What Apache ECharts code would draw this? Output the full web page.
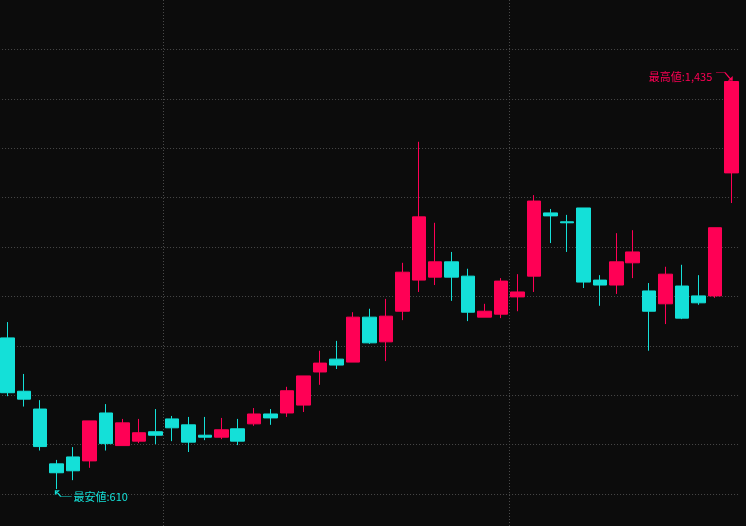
<!DOCTYPE html>
<html>
<head>
<meta charset="utf-8">
<script src="https://cdn.jsdelivr.net/npm/echarts@6/dist/echarts.min.js"></script>
<style>
html,body{margin:0;padding:0;background:#0c0c0c;}
#chart{width:746px;height:526px;}
</style>
</head>
<body>
<div id="chart"></div>
<script>
// month-day labels (month changes mark the vertical separators)
const categories = [
  '1-1','1-2','1-3','1-4','1-5','1-6','1-7','1-8','1-9','1-10',
  '2-1','2-2','2-3','2-4','2-5','2-6','2-7','2-8','2-9','2-10','2-11','2-12','2-13','2-14','2-15','2-16','2-17','2-18','2-19','2-20','2-21',
  '3-1','3-2','3-3','3-4','3-5','3-6','3-7','3-8','3-9','3-10','3-11','3-12','3-13','3-14'
];
const opens  = [916,808,772,661,675,667,764,698,707,726,752,740,719,715,732,742,762,764,780,847,873,867,958,908,970,1033,1039,1070,1041,958,964,999,1041,1169,1151,1179,1033,1023,1068,1011,985,1021,1001,1001,1250];
const closes = [805,792,696,643,647,748,702,744,724,719,734,705,715,730,707,762,754,809,839,865,861,958,906,960,1049,1161,1070,1039,968,970,1031,1009,1193,1163,1149,1029,1023,1070,1090,970,1045,956,987,1139,1435];
const lows   = [798,777,688,610,628,653,688,698,703,701,707,685,709,711,699,738,740,756,766,821,853,867,904,869,952,1009,1023,991,950,958,956,970,1009,1108,1090,1017,981,1005,1037,890,944,954,983,997,1189];
const highs  = [948,843,790,669,695,748,782,752,752,772,758,756,756,754,752,774,772,817,839,890,910,968,975,995,1068,1313,1149,1090,1056,985,1037,1045,1205,1177,1165,1179,1043,1128,1134,1027,1060,1064,1043,1139,1435];
const highLabel = '最高値:';
const lowLabel = '最安値:';

const UP = '#ff0055';
const DOWN = '#14e0d8';
const FONT = '"Noto Sans CJK JP", "Noto Sans", sans-serif';

const candleData = opens.map((o, i) => [o, closes[i], lows[i], highs[i]]);
const maxVal = Math.max(...highs);
const maxIdx = highs.indexOf(maxVal);
const minVal = Math.min(...lows);
const minIdx = lows.indexOf(minVal);
const fmt = v => Number(v).toLocaleString('en-US');
const monthOf = c => String(c).split('-')[0];

const chart = echarts.init(document.getElementById('chart'));
chart.setOption({
  backgroundColor: '#0c0c0c',
  animation: false,
  grid: { left: -0.93, right: 6.27, top: 0, bottom: -17.4, outerBoundsMode: 'none', containLabel: false },
  xAxis: {
    type: 'category',
    data: categories,
    boundaryGap: true,
    axisLine: { show: false },
    axisTick: { show: false },
    axisLabel: { show: false },
    splitLine: {
      show: true,
      showMinLine: true,
      showMaxLine: false,
      interval: (idx) => idx > 0 && idx < categories.length && monthOf(categories[idx]) !== monthOf(categories[idx - 1]),
      lineStyle: { color: '#4a4a4a', width: 1, type: [1, 2] }
    }
  },
  yAxis: {
    type: 'value',
    min: 500,
    max: 1600,
    interval: 100,
    axisLine: { show: false },
    axisTick: { show: false },
    axisLabel: { show: false },
    splitLine: {
      show: true,
      showMinLine: false,
      showMaxLine: false,
      lineStyle: { color: '#4a4a4a', width: 1, type: [1, 2] }
    }
  },
  series: [{
    type: 'candlestick',
    data: candleData,
    barWidth: 14,
    itemStyle: {
      color: UP, color0: DOWN,
      borderColor: UP, borderColor0: DOWN,
      borderWidth: 1
    },
    markPoint: {
      silent: true,
      animation: false,
      data: [
        {
          coord: [maxIdx, maxVal],
          value: maxVal,
          symbol: 'path://M0 0 L9 0 L14 6 M13 8 L16 8 L16 5 Z',
          symbolSize: [16, 8],
          symbolKeepAspect: false,
          symbolOffset: [-7.5, -5],
          itemStyle: { color: 'rgba(0,0,0,0)', borderColor: UP, borderWidth: 1 },
          label: {
            show: true, position: 'left', distance: 3, offset: [0, 0],
            color: UP, fontSize: 11, fontFamily: FONT,
            formatter: p => highLabel + fmt(p.value)
          }
        },
        {
          coord: [minIdx, minVal],
          value: minVal,
          symbol: 'path://M0 0 L3 0 L0 3 Z M1 1 L5 6 L16 6',
          symbolSize: [16, 6],
          symbolKeepAspect: false,
          symbolOffset: [7, 4.5],
          itemStyle: { color: 'rgba(0,0,0,0)', borderColor: DOWN, borderWidth: 1 },
          label: {
            show: true, position: 'right', distance: 1, offset: [0, 3],
            color: DOWN, fontSize: 11, fontFamily: FONT,
            formatter: p => lowLabel + fmt(p.value)
          }
        }
      ]
    }
  }]
});
</script>
</body>
</html>
